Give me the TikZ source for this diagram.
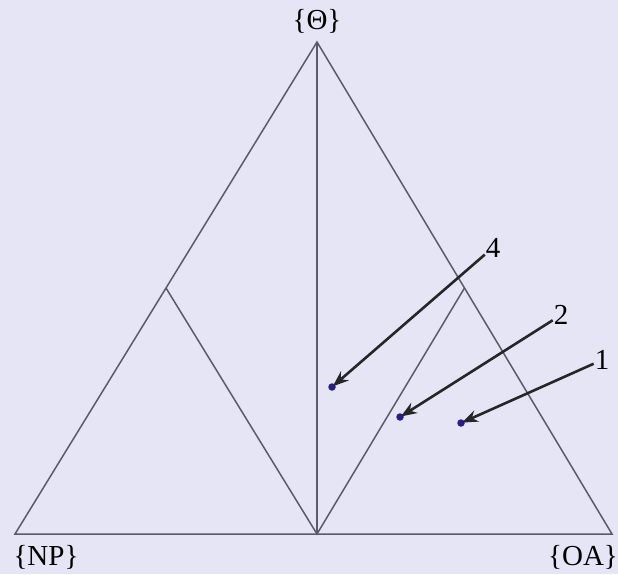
\documentclass[tikz,border=0pt]{standalone}
\usepackage{fontspec}
\setmainfont{Liberation Serif}
\usetikzlibrary{arrows.meta}
\definecolor{paper}{RGB}{229,229,245}
\definecolor{edgegray}{RGB}{90,90,104}
\definecolor{dotblue}{RGB}{40,30,140}
\begin{document}
\begin{tikzpicture}[x=1pt, y=-1pt]
    % 定义样式
    \tikzstyle{side}=[edgegray, line width=1.5pt]
    \tikzstyle{dot}=[circle, fill=dotblue, inner sep=0pt, minimum size=7.5pt]
    \tikzstyle{vlabel}=[inner sep=0pt, font=\fontsize{29}{32}\selectfont]
    \tikzstyle{pointer}=[-{Stealth[length=16pt, width=12pt]}, line width=2.6pt, black!85, shorten >=1pt, shorten <=1pt]

    % 0. 背景 (扫描纸色)
    \fill[paper] (0,0) rectangle (618,574);
    \useasboundingbox (0,0) rectangle (618,574);

    % 1. 三角形的顶点与各边中点
    \coordinate (NP) at (15,534);
    \coordinate (OA) at (612,534);
    \coordinate (TH) at (317,42);
    \coordinate (BM) at (317,534);
    \coordinate (LM) at (166,288);
    \coordinate (RM) at (464.5,288);

    \draw[side] (NP) -- (TH) -- (OA) -- cycle;
    \draw[side] (TH) -- (BM);
    \draw[side] (LM) -- (BM) -- (RM);

    % 2. 顶点标签
    \node[vlabel] (lTH) at (317,21.5) {\{Θ\}};
    \node[vlabel] (lNP) at (46,557) {\{NP\}};
    \node[vlabel] (lOA) at (583,557) {\{OA\}};

    % 3. 数据点及编号
    \node[dot] (d4) at (332,387) {};
    \node[dot] (d2) at (400,417) {};
    \node[dot] (d1) at (461,423) {};

    \node[vlabel] (l4) at (493,247.5) {4};
    \node[vlabel] (l2) at (561,315) {2};
    \node[vlabel] (l1) at (602,360) {1};

    % 4. 指向数据点的箭头
    \draw[pointer] (l4) -- (d4.center);
    \draw[pointer] (l2) -- (d2.center);
    \draw[pointer] (l1) -- (d1.center);
\end{tikzpicture}
\end{document}
